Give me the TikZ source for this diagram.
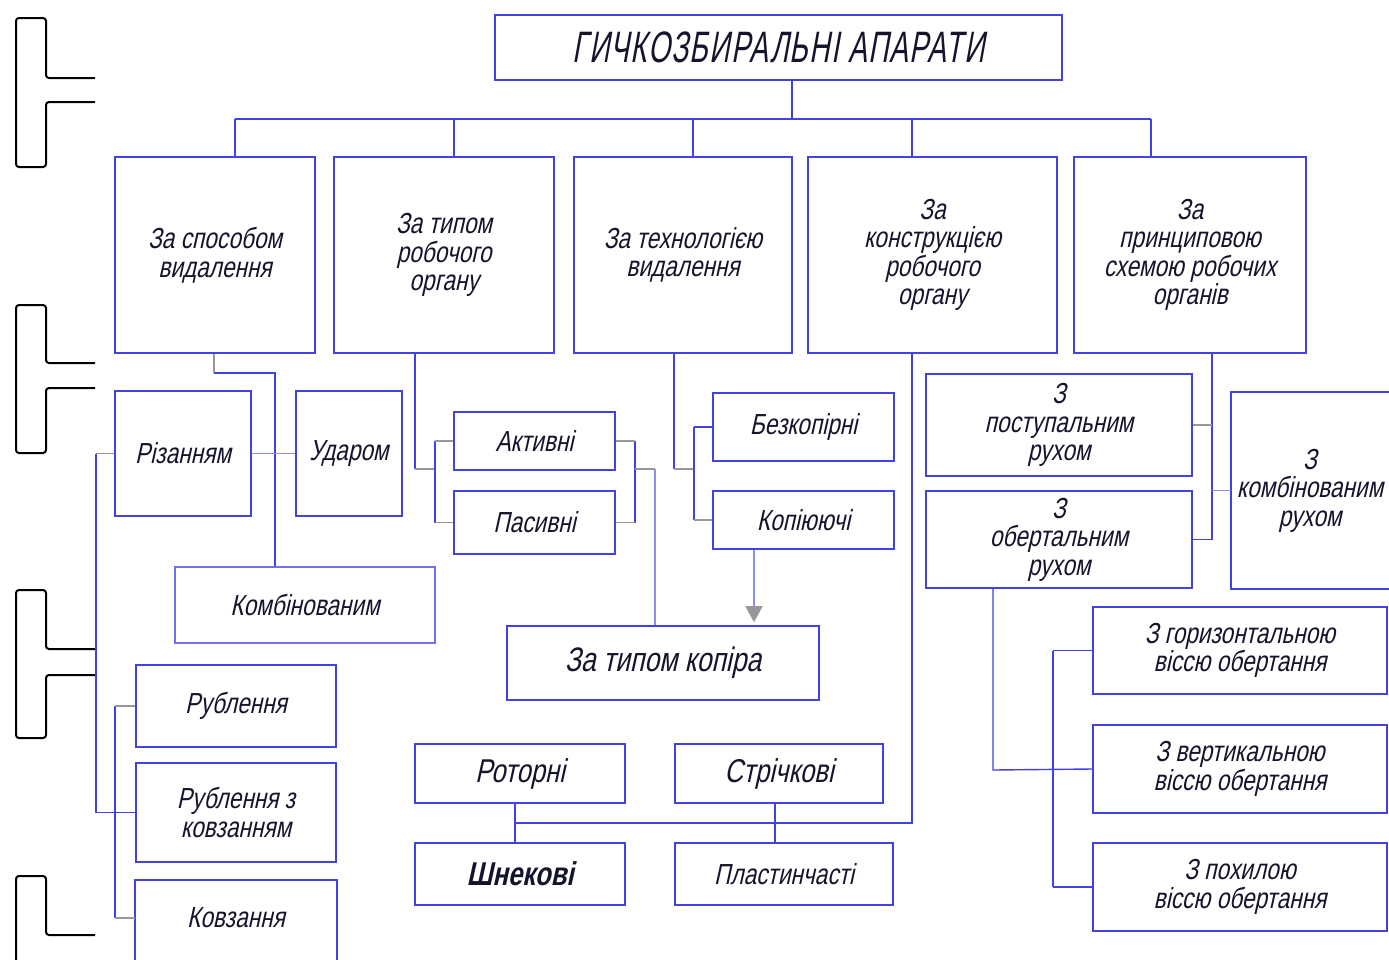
\documentclass[tikz,border=0pt]{standalone}
\usepackage{fontspec}
\newfontfamily\gost{Liberation Sans}[FakeSlant=0.22,FakeStretch=0.78]
\newfontfamily\gosttitle{Liberation Sans}[FakeSlant=0.18,FakeStretch=0.64,LetterSpace=3]
\usetikzlibrary{arrows.meta,calc}
\definecolor{bl}{RGB}{66,66,228}
\definecolor{gr}{RGB}{150,150,155}
\definecolor{ink}{RGB}{20,20,45}
\begin{document}
\begin{tikzpicture}[x=1pt,y=-1pt,
  box/.style={draw=bl,line width=1.6pt,inner sep=0pt,align=center,text=ink,
    font=\gost\fontsize{29}{28.5}\selectfont},
  bigtxt/.style={font=\gost\fontsize{33}{33}\selectfont},
  ln/.style={draw=bl,line width=1.4pt},
  lnl/.style={draw=bl!60,line width=1.4pt},
  stub/.style={draw=gr,line width=1.8pt},
  brk/.style={draw=black,line width=2pt,rounded corners=3pt}]
\useasboundingbox (0,0) rectangle (1389,959);
\fill[white] (0,0) rectangle (1389,959);

% black brackets (scan marks)
\draw[brk] (95,78) -- (46,78) -- (46,18) -- (16,18) -- (16,167) -- (46,167) -- (46,102) -- (95,102);
\draw[brk] (95,363) -- (46,363) -- (46,305) -- (16,305) -- (16,453) -- (46,453) -- (46,388) -- (95,388);
\draw[brk] (96,649) -- (46,649) -- (46,590) -- (16,590) -- (16,738) -- (46,738) -- (46,675) -- (96,675);
\draw[brk] (95,935) -- (46,935) -- (46,876) -- (16,876) -- (16,975);

% title
\node[box,minimum width=567pt,minimum height=65pt,font=\gosttitle\fontsize{44}{44}\selectfont] (title) at (778.5,47.5) {ГИЧКОЗБИРАЛЬНІ АПАРАТИ};

% level 2
\node[box,minimum width=200pt,minimum height=196pt] (b1) at (215,255) {За способом\\видалення};
\node[box,minimum width=220pt,minimum height=196pt] (b2) at (444,255) {За типом\\робочого\\органу};
\node[box,minimum width=218pt,minimum height=196pt] (b3) at (683,255) {За технологією\\видалення};
\node[box,minimum width=249pt,minimum height=196pt] (b4) at (932.5,255) {За\\конструкцією\\робочого\\органу};
\node[box,minimum width=232pt,minimum height=196pt] (b5) at (1190,255) {За\\принциповою\\схемою робочих\\органів};

% group 1
\node[box,minimum width=136pt,minimum height=125pt] (rizan) at (183,453.5) {Різанням};
\node[box,minimum width=106pt,minimum height=125pt] (udar) at (349,453.5) {Ударом};
\node[box,draw=bl!75,minimum width=260pt,minimum height=76pt] (komb) at (305,605) {Комбінованим};
\node[box,minimum width=200pt,minimum height=82pt] (rubl) at (236,706) {Рублення};
\node[box,minimum width=200pt,minimum height=99pt] (rublk) at (236,812.5) {Рублення з\\ковзанням};
\node[box,draw=none,minimum width=200pt,minimum height=74pt] (kovz) at (236,918) {Ковзання};
\draw[bl,line width=1.6pt] ([yshift=-12pt]kovz.south west) -- (kovz.north west) -- (kovz.north east) -- ([yshift=-12pt]kovz.south east);

% group 2
\node[box,minimum width=161pt,minimum height=58pt] (aktyv) at (534.5,441) {Активні};
\node[box,minimum width=161pt,minimum height=63pt] (pasyv) at (534.5,522.5) {Пасивні};
\node[box,minimum width=312pt,minimum height=74pt,font=\gost\fontsize{34}{34}\selectfont] (kopir) at (663,663) {За типом копіра};

% group 3
\node[box,minimum width=181pt,minimum height=68pt] (bezkop) at (803.5,427) {Безкопірні};
\node[box,minimum width=181pt,minimum height=58pt] (kopiy) at (803.5,520) {Копіюючі};

% group 4
\node[box,bigtxt,minimum width=210pt,minimum height=59pt] (rotor) at (520,773.5) {Роторні};
\node[box,bigtxt,minimum width=208pt,minimum height=59pt] (strich) at (779,773.5) {Стрічкові};
\node[box,bigtxt,minimum width=210pt,minimum height=62pt,font=\gost\bfseries\fontsize{33}{33}\selectfont] (shnek) at (520,874) {Шнекові};
\node[box,minimum width=218pt,minimum height=62pt] (plast) at (784,874) {Пластинчасті};

% group 5
\node[box,minimum width=266pt,minimum height=102pt] (post) at (1059,425) {З\\поступальним\\рухом};
\node[box,minimum width=266pt,minimum height=97pt] (obert) at (1059,539.5) {З\\обертальним\\рухом};
\node[box,draw=none,minimum width=156pt,minimum height=195pt] (kombr) at (1310,490.5) {З\\комбінованим\\рухом};
\draw[bl,line width=1.6pt] ([xshift=12pt]kombr.north east) -- (kombr.north west) -- (kombr.south west) -- ([xshift=12pt]kombr.south east);
\node[box,minimum width=294pt,minimum height=87pt] (horiz) at (1240,650.5) {З горизонтальною\\віссю обертання};
\node[box,minimum width=294pt,minimum height=88pt] (vert) at (1240,769) {З вертикальною\\віссю обертання};
\node[box,minimum width=294pt,minimum height=88pt] (pohyl) at (1240,887) {З похилою\\віссю обертання};

% top bus
\coordinate (bus0) at (792,119);
\coordinate (d1) at (235,119);
\coordinate (d2) at (454,119);
\coordinate (d3) at (693,119);
\coordinate (d4) at (912,119);
\coordinate (d5) at (1151,119);
\draw[ln] (title.south -| bus0) -- (bus0);
\draw[ln] (d1) -- (d5);
\draw[ln] (d1) -- (d1 |- b1.north);
\draw[ln] (d2) -- (d2 |- b2.north);
\draw[ln] (d3) -- (d3 |- b3.north);
\draw[ln] (d4) -- (d4 |- b4.north);
\draw[ln] (d5) -- (d5 |- b5.north);

% b1 connectors
\coordinate (k1) at (214,373);
\coordinate (k2) at (275,373);
\draw[stub] (k1 |- b1.south) -- (k1);
\draw[ln] (k1) -- (k2) -- (k2 |- komb.north);
\draw[lnl] (rizan.east) -- (udar.west);
\coordinate (v1) at (96,453.5);
\draw[stub] (rizan.west) -- (v1);
\draw[ln] (v1) -- (v1 |- rublk.west) -- (rublk.west);
\coordinate (v2) at (115,706);
\draw[ln] (v2 |- rubl.west) -- (v2 |- kovz.west);
\draw[stub] (v2 |- rubl.west) -- (rubl.west);
\draw[stub] (v2 |- kovz.west) -- (kovz.west);

% b2 connectors
\coordinate (p1) at (415,469);
\coordinate (p2) at (435,469);
\draw[ln] (p1 |- b2.south) -- (p1);
\draw[stub] (p1) -- (p2);
\draw[ln] (p2 |- aktyv.west) -- (p2 |- pasyv.west);
\draw[stub] (p2 |- aktyv.west) -- (aktyv.west);
\draw[stub] (p2 |- pasyv.west) -- (pasyv.west);
\coordinate (q1) at (635,469);
\coordinate (q2) at (655,469);
\draw[ln] (q1 |- aktyv.east) -- (q1 |- pasyv.east);
\draw[stub] (aktyv.east) -- (q1 |- aktyv.east);
\draw[stub] (pasyv.east) -- (q1 |- pasyv.east);
\draw[stub] (q1) -- (q2);
\draw[lnl] (q2) -- (q2 |- kopir.north);

% b3 connectors
\coordinate (r1) at (674,469);
\coordinate (r2) at (694,469);
\draw[ln] (r1 |- b3.south) -- (r1);
\draw[stub] (r1) -- (r2);
\draw[ln] (r2 |- bezkop.west) -- (r2 |- kopiy.west);
\draw[ln] (r2 |- bezkop.west) -- (bezkop.west);
\draw[stub] (r2 |- kopiy.west) -- (kopiy.west);
\coordinate (a1) at (754,600);
\draw[lnl,-{Triangle[length=16pt,width=17pt,color=gr,fill=gr]},shorten >=3pt] (a1 |- kopiy.south) -- (a1 |- kopir.north);

% b4 connectors
\coordinate (s1) at (912,823);
\coordinate (s2) at (515,823);
\coordinate (s3) at (775,823);
\draw[ln] (s1 |- b4.south) -- (s1) -- (s2);
\draw[ln] (s2 |- rotor.south) -- (s2 |- shnek.north);
\draw[ln] (s3 |- strich.south) -- (s3 |- plast.north);

% b5 connectors
\coordinate (t1) at (1212,540);
\draw[ln] (t1 |- b5.south) -- (t1);
\draw[stub] (post.east) -- (t1 |- post.east);
\draw[ln] (obert.east) -- (t1 |- obert.east);
\draw[lnl] (t1 |- kombr.west) -- (kombr.west);
\coordinate (u1) at (993,770);
\draw[ln] (u1 |- obert.south) -- (u1) -- (vert.west);
\coordinate (u2) at (1053,650);
\draw[ln] (u2 |- horiz.west) -- (u2 |- pohyl.west);
\draw[ln] (u2 |- horiz.west) -- (horiz.west);
\draw[ln] (u2 |- pohyl.west) -- (pohyl.west);
\end{tikzpicture}
\end{document}
